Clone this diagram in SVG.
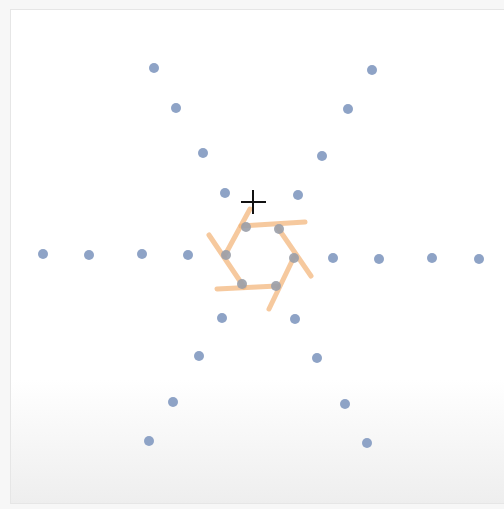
<svg xmlns="http://www.w3.org/2000/svg" width="504" height="509" viewBox="0 0 504 509">
<defs>
<linearGradient id="bg" x1="0" y1="0" x2="0" y2="1">
<stop offset="0" stop-color="#ffffff"/>
<stop offset="0.75" stop-color="#ffffff"/>
<stop offset="1" stop-color="#eeeeee"/>
</linearGradient>
<style>
.d{fill:#8ea3c6}
.v{fill:#9a9fa8;opacity:0.9}
.o{stroke:#f2b275;stroke-width:5;stroke-linecap:round;opacity:0.7;fill:none}
.c{stroke:#111;stroke-width:2}
</style>
</defs>
<rect x="0" y="0" width="504" height="509" fill="#f7f7f7"/>
<rect x="10.5" y="9.5" width="500" height="494" fill="url(#bg)" stroke="#e6e6e6" stroke-width="1"/>
<g id="dots">
<circle class="d" cx="43" cy="254" r="5"/>
<circle class="d" cx="89" cy="255" r="5"/>
<circle class="d" cx="142" cy="254" r="5"/>
<circle class="d" cx="188" cy="255" r="5"/>
<circle class="d" cx="333" cy="258" r="5"/>
<circle class="d" cx="379" cy="259" r="5"/>
<circle class="d" cx="432" cy="258" r="5"/>
<circle class="d" cx="479" cy="259" r="5"/>
<circle class="d" cx="154" cy="68" r="5"/>
<circle class="d" cx="176" cy="108" r="5"/>
<circle class="d" cx="203" cy="153" r="5"/>
<circle class="d" cx="225" cy="193" r="5"/>
<circle class="d" cx="372" cy="70" r="5"/>
<circle class="d" cx="348" cy="109" r="5"/>
<circle class="d" cx="322" cy="156" r="5"/>
<circle class="d" cx="298" cy="195" r="5"/>
<circle class="d" cx="149" cy="441" r="5"/>
<circle class="d" cx="173" cy="402" r="5"/>
<circle class="d" cx="199" cy="356" r="5"/>
<circle class="d" cx="222" cy="318" r="5"/>
<circle class="d" cx="367" cy="443" r="5"/>
<circle class="d" cx="345" cy="404" r="5"/>
<circle class="d" cx="317" cy="358" r="5"/>
<circle class="d" cx="295" cy="319" r="5"/>
</g>
<g id="hexagon">
<line class="o" x1="241" y1="226" x2="305" y2="222"/>
<line class="o" x1="278" y1="228" x2="311" y2="276"/>
<line class="o" x1="294" y1="257" x2="269" y2="309"/>
<line class="o" x1="277" y1="286" x2="217" y2="289"/>
<line class="o" x1="244" y1="287" x2="209" y2="235"/>
<line class="o" x1="225" y1="255" x2="250" y2="209"/>
</g>
<g id="vertices">
<circle class="v" cx="246" cy="227" r="5"/>
<circle class="v" cx="279" cy="229" r="5"/>
<circle class="v" cx="226" cy="255" r="5"/>
<circle class="v" cx="294" cy="258" r="5"/>
<circle class="v" cx="242" cy="284" r="5"/>
<circle class="v" cx="276" cy="286" r="5"/>
</g>
<g id="cursor">
<line class="c" x1="241" y1="202" x2="266" y2="202"/>
<line class="c" x1="253" y1="190" x2="253" y2="214"/>
</g>
</svg>
